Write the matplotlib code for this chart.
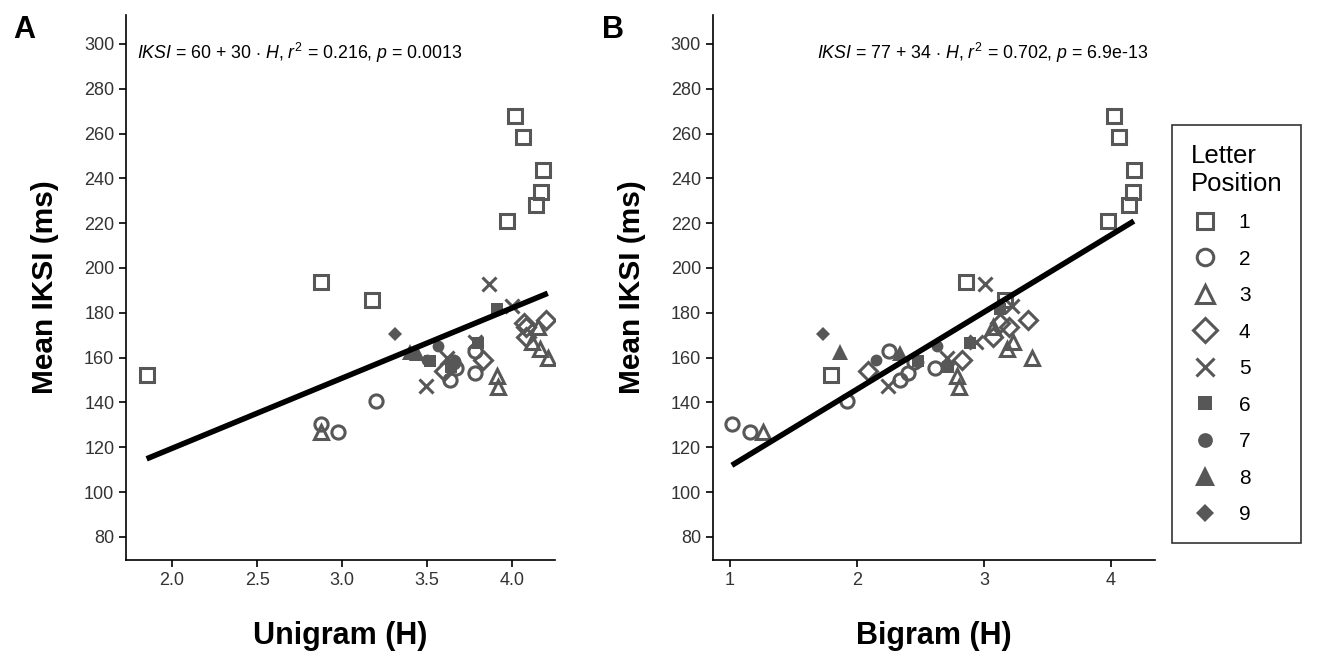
import numpy as np
import matplotlib
matplotlib.use('Agg')
import matplotlib.pyplot as plt

plt.rcParams['font.family'] = ['Liberation Sans', 'DejaVu Sans']
plt.rcParams['mathtext.fontset'] = 'custom'
plt.rcParams['mathtext.rm'] = 'Liberation Sans'
plt.rcParams['mathtext.it'] = 'Liberation Sans:italic'

# letter position of each point (word lengths 1..9)
position = [1]*9 + [2]*8 + [3]*7 + [4]*6 + [5]*5 + [6]*4 + [7]*3 + [8]*2 + [9]

# mean inter-key interval (ms)
iksi = [152.3, 193.8, 185.7, 221.0, 267.9, 258.5, 243.8, 234.0, 228.2,
        130.2, 127.0, 140.5, 162.8, 158.0, 155.5, 153.0, 149.8,
        126.9, 152.0, 147.0, 159.8, 164.0, 167.0, 173.7,
        154.0, 159.0, 169.0, 173.7, 175.3, 176.8,
        147.2, 192.7, 183.0, 160.0, 166.8,
        181.8, 166.6, 155.8, 158.5,
        165.0, 159.0, 158.0,
        162.5, 162.0,
        170.6]

# unigram entropy (panel A)
unigram_h = [1.85, 2.876, 3.176, 3.97, 4.02, 4.065, 4.18, 4.17, 4.14,
             2.876, 2.976, 3.20, 3.78, 3.65, 3.67, 3.78, 3.635,
             2.876, 3.91, 3.92, 4.21, 4.165, 4.12, 4.15,
             3.60, 3.83, 4.08, 4.08, 4.07, 4.20,
             3.494, 3.865, 4.00, 3.62, 3.78,
             3.91, 3.80, 3.64, 3.52,
             3.565, 3.50, 3.66,
             3.40, 3.44,
             3.31]

# bigram entropy (panel B)
bigram_h = [1.795, 2.858, 3.165, 3.976, 4.024, 4.063, 4.18, 4.173, 4.142,
            1.016, 1.157, 1.92, 2.252, 2.45, 2.614, 2.40, 2.34,
            1.26, 2.79, 2.80, 3.38, 3.18, 3.23, 3.07,
            2.087, 2.83, 3.07, 3.20, 3.13, 3.35,
            2.244, 3.01, 3.22, 2.71, 2.94,
            3.126, 2.89, 2.72, 2.48,
            2.63, 2.15, 2.48,
            1.87, 2.34,
            1.73]

markers = {1: ('s', 'none'), 2: ('o', 'none'), 3: ('^', 'none'), 4: ('D', 'none'),
           5: ('x', None), 6: ('s', 'full'), 7: ('o', 'full'), 8: ('^', 'full'), 9: ('D', 'full')}
sizes = {1: 9.5, 2: 9.5, 3: 10.5, 4: 9.5, 5: 10.5, 6: 8.5, 7: 8.5, 8: 11, 9: 7}
grey = '#575757'

position = np.array(position)
iksi = np.array(iksi)
unigram_h = np.array(unigram_h)
bigram_h = np.array(bigram_h)

fig = plt.figure(figsize=(13.2, 6.72), dpi=100)
axA = fig.add_axes([0.0955, 0.1667, 0.325, 0.811])
axB = fig.add_axes([0.540, 0.1667, 0.335, 0.811])

panels = [(axA, unigram_h, 'Unigram (H)', (1.729, 4.253),
           r'$IKSI$ = 60 + 30 $\cdot$ $H$, $r^2$ = 0.216, $p$ = 0.0013', 'A'),
          (axB, bigram_h, 'Bigram (H)', (0.866, 4.346),
           r'$IKSI$ = 77 + 34 $\cdot$ $H$, $r^2$ = 0.702, $p$ = 6.9e-13', 'B')]

handles = []
for ax, xh, xlab, xlim, eq, letter in panels:
    for p in range(1, 10):
        m, fill = markers[p]
        sel = position == p
        if fill == 'none':
            h, = ax.plot(xh[sel], iksi[sel], linestyle='none', marker=m, markersize=sizes[p],
                         markerfacecolor='none', markeredgecolor=grey, markeredgewidth=2.2, label=str(p))
        elif fill is None:
            h, = ax.plot(xh[sel], iksi[sel], linestyle='none', marker=m, markersize=sizes[p],
                         color=grey, markeredgewidth=2.2, label=str(p))
        else:
            h, = ax.plot(xh[sel], iksi[sel], linestyle='none', marker=m, markersize=sizes[p],
                         color=grey, markeredgewidth=0, label=str(p))
        if ax is axA:
            handles.append(h)
    # least squares fit
    b1, b0 = np.polyfit(xh, iksi, 1)
    xs = np.array([xh.min(), xh.max()])
    ax.plot(xs, b0 + b1*xs, color='black', linewidth=4, solid_capstyle='butt')

    ax.set_xlim(*xlim)
    ax.set_ylim(69.7, 312.9)
    ax.set_yticks(np.arange(80, 301, 20))
    ax.spines['top'].set_visible(False)
    ax.spines['right'].set_visible(False)
    ax.spines['left'].set_linewidth(1.2)
    ax.spines['bottom'].set_linewidth(1.2)
    ax.tick_params(direction='out', length=5, width=1.2, labelsize=13, colors='black',
                   labelcolor='#333333')
    ax.set_xlabel(xlab, fontsize=22, fontweight='bold', labelpad=23)
    ax.set_ylabel('Mean IKSI (ms)', fontsize=21.5, fontweight='bold', labelpad=18)
    if letter == 'A':
        ax.text(0.025, 0.93, eq, transform=ax.transAxes, fontsize=12.8, ha='left', va='center')
    else:
        ax.text(0.985, 0.93, eq, transform=ax.transAxes, fontsize=12.8, ha='right', va='center')

axA.set_xticks([2.0, 2.5, 3.0, 3.5, 4.0])
axA.set_xticklabels(['2.0', '2.5', '3.0', '3.5', '4.0'])
axB.set_xticks([1, 2, 3, 4])

fig.text(0.010, 0.955, 'A', fontsize=22, fontweight='bold', ha='left', va='center')
fig.text(0.456, 0.955, 'B', fontsize=22, fontweight='bold', ha='left', va='center')

leg = fig.legend(handles=handles, title='Letter\nPosition', loc='upper left',
                 bbox_to_anchor=(0.888, 0.814), borderaxespad=0, frameon=True, fancybox=False,
                 edgecolor='black', fontsize=15, title_fontsize=18.5, markerscale=1.25,
                 labelspacing=0.84, handletextpad=0.9, borderpad=0.9, handlelength=1.4)
leg.get_frame().set_linewidth(1.2)
leg._legend_box.align = 'left'

fig.savefig('out.png', dpi=100)
